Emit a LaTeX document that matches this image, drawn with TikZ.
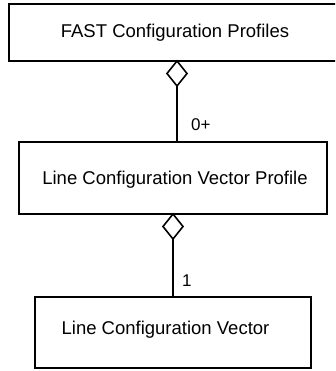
\documentclass[tikz,border=0pt]{standalone}
\usepackage{fontspec}
\setmainfont{Liberation Sans}
\usetikzlibrary{shapes.geometric}
\begin{document}
\begin{tikzpicture}[x=1pt,y=-1pt,
  classbox/.style={draw=black, line width=2pt, fill=white, inner sep=0pt, outer sep=0pt},
  boxtext/.style={anchor=base, inner sep=0pt, font=\fontsize{18.5}{22}\selectfont},
  multtext/.style={anchor=base west, inner sep=0pt, font=\fontsize{17}{20}\selectfont},
  aggr/.style={diamond, draw=black, line width=1.6pt, fill=white, inner sep=0pt, outer sep=0pt,
    minimum width=20pt, minimum height=25pt, anchor=north},
  assoc/.style={draw=black, line width=1.6pt}]
  \clip (0,0) rectangle (335,371);
  \fill[white] (0,0) rectangle (335,371);

  % class boxes
  \node[classbox, minimum width=336pt, minimum height=57pt] (b1) at (177,32.5) {};
  \node[classbox, minimum width=308pt, minimum height=72pt] (b2) at (173,178) {};
  \node[classbox, minimum width=276pt, minimum height=71pt] (b3) at (173,332.5) {};

  % class names
  \node[boxtext] (t1) at (175,38) {FAST Configuration Profiles};
  \node[boxtext] (t2) at (175,184) {Line Configuration Vector Profile};
  \node[boxtext] (t3) at (165.5,334) {Line Configuration Vector};

  % aggregation diamonds on the owning classes
  \node[aggr] (d1) at (177,61) {};
  \node[aggr] (d2) at (173,214) {};

  % associations
  \draw[assoc] (d1.south) -- (d1.south |- b2.north);
  \draw[assoc] (d2.south) -- (d2.south |- b3.north);

  % multiplicities
  \node[multtext] (m1) at (191,131) {0+};
  \node[multtext] (m2) at (182,286) {1};
\end{tikzpicture}
\end{document}
